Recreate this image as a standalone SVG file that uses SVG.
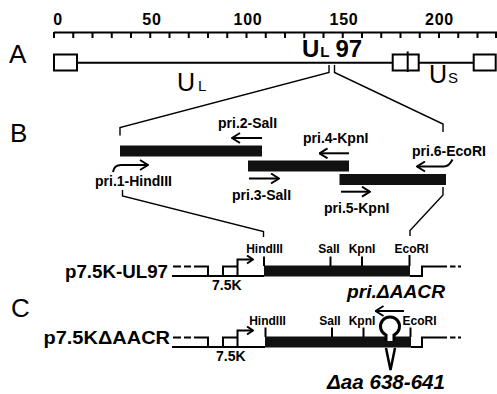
<svg xmlns="http://www.w3.org/2000/svg" width="497" height="394" viewBox="0 0 497 394">
<style>
.t{font-family:"Liberation Sans",Arial,Helvetica,sans-serif;fill:#000}
.b{font-weight:bold}
.bi{font-weight:bold;font-style:italic}
.ln{stroke:#000;stroke-width:2;fill:none}
.cn{stroke:#000;stroke-width:1.4;fill:none}
.ar{stroke:#000;stroke-width:2;fill:none;marker-end:url(#ah)}
.bar{fill:#111}
.site{font-size:12px;text-anchor:middle}
.pri{font-size:14px}
</style>
<defs>
<marker id="ah" viewBox="0 0 10 12" refX="9" refY="6" markerWidth="10" markerHeight="12" markerUnits="userSpaceOnUse" orient="auto"><path d="M1,1 L9,6 L1,11" fill="none" stroke="#000" stroke-width="2"/></marker>
<marker id="ahs" viewBox="0 0 8 10" refX="7" refY="5" markerWidth="8" markerHeight="10" markerUnits="userSpaceOnUse" orient="auto"><path d="M1,1 L7,5 L1,9" fill="none" stroke="#000" stroke-width="2"/></marker>
</defs>
<rect width="497" height="394" fill="#fff"/>

<g id="ruler">
<path class="ln" stroke-width="2.2" d="M54,32.5 H497"/>
<path class="ln" d="M54,32 V38 M73.25,32 V38 M92.5,32 V38 M111.75,32 V38 M131,32 V38 M150.25,32 V38 M169.5,32 V38 M188.75,32 V38 M208,32 V38 M227.25,32 V38 M246.5,32 V38 M265.75,32 V38 M285,32 V38 M304.25,32 V38 M323.5,32 V38 M342.75,32 V38 M362,32 V38 M381.25,32 V38 M400.5,32 V38 M419.75,32 V38 M439,32 V38 M458.25,32 V38 M477.5,32 V38 M496,32 V38"/>
<g class="t b" font-size="16" text-anchor="middle" letter-spacing="0.8">
<text x="58" y="25">0</text>
<text x="152" y="25">50</text>
<text x="248" y="25">100</text>
<text x="344" y="25">150</text>
<text x="439.5" y="25">200</text>
</g>
</g>

<g id="label-A"><text class="t" x="9" y="63" font-size="26">A</text></g>
<g id="label-B"><text class="t" x="10" y="142" font-size="26">B</text></g>
<g id="label-C"><text class="t" x="11" y="317" font-size="26">C</text></g>

<g id="genome">
<path class="ln" d="M77,62.7 H392.7 M418.7,62.7 H473.7"/>
<rect class="ln" x="54" y="54.5" width="23" height="16"/>
<rect class="ln" x="392.7" y="54.5" width="26" height="16"/>
<path class="ln" d="M407.7,51.5 V72"/>
<rect class="ln" x="473.7" y="54.5" width="22" height="16"/>
<text class="t" x="177" y="91" font-size="25">U<tspan font-size="15" dx="3">L</tspan></text>
<text class="t" x="429" y="83" font-size="25">U<tspan font-size="15" dx="1">S</tspan></text>
<text class="t b" x="302" y="57" font-size="24">U<tspan font-size="15" dx="1">L</tspan><tspan dx="6">97</tspan></text>
</g>

<g id="connectors">
<path class="cn" d="M329,65 V72.5 L120,127.5 V135.5"/>
<path class="cn" d="M334.5,65 V72.5 L443,124 V132"/>
<path class="cn" d="M122.5,190 V196 L263.5,231.5 V237"/>
<path class="cn" d="M443,187 V195 L410,230.5 V236"/>
</g>

<g id="fragments">
<rect class="bar" x="120" y="145.5" width="142" height="11"/>
<rect class="bar" x="248" y="160.5" width="101" height="11"/>
<rect class="bar" x="339.5" y="174" width="106.5" height="11"/>
</g>

<g id="pri1"><text class="t b pri" x="95" y="186">pri.1-HindIII</text><path class="ar" d="M113,172 Q114,165 121,165 H148"/></g>
<g id="pri2"><text class="t b pri" x="218" y="128">pri.2-SalI</text><path class="ar" d="M262,138 H232"/></g>
<g id="pri3"><text class="t b pri" x="232" y="200">pri.3-SalI</text><path class="ar" d="M249,178.5 H279"/></g>
<g id="pri4"><text class="t b pri" x="303" y="143">pri.4-KpnI</text><path class="ar" d="M349,153.3 H319.5"/></g>
<g id="pri5"><text class="t b pri" x="324" y="212.5">pri.5-KpnI</text><path class="ar" d="M341,191.7 H370"/></g>
<g id="pri6"><text class="t b pri" x="412" y="155.5">pri.6-EcoRI</text><path class="ar" d="M452.5,159.5 Q449,166.5 444,166.5 H417"/></g>

<g id="p75K-UL97">
<text class="t b" x="65" y="278" font-size="18" textLength="103" lengthAdjust="spacingAndGlyphs">p7.5K-UL97</text>
<path class="ln" d="M172,276 H264 M173,266.5 H181 M184,266.5 H191 M194,266.5 H208 V276 M223,276 V266.5 H237.5"/>
<path class="ln" d="M237.5,276 V259.5 H253" marker-end="url(#ahs)"/>
<rect class="bar" x="264" y="265.5" width="146" height="11"/>
<path class="ln" d="M410,276 H422 V266.5 H447 M450,266.5 H455.5 M458,266.5 H461"/>
<path class="ln" stroke-width="1.4" d="M264,256.5 V266 M330.5,256.5 V266 M362,256.5 V266 M409.5,255 V266"/>
<g class="t b site"><text x="264.5" y="253">HindIII</text><text x="329" y="253">SalI</text><text x="362" y="253">KpnI</text><text x="411.5" y="253">EcoRI</text></g>
<text class="t b" x="212" y="290" font-size="14">7.5K</text>
</g>

<g id="priAACR"><text class="t bi" x="347" y="298" font-size="18" textLength="98" lengthAdjust="spacingAndGlyphs">pri.ΔAACR</text><path class="ar" d="M404,311 H375.5"/></g>

<g id="p75K-dAACR">
<text class="t b" x="43.5" y="344" font-size="18" textLength="126.5" lengthAdjust="spacingAndGlyphs">p7.5KΔAACR</text>
<path class="ln" d="M172,347 H265 M173,337.5 H181 M184,337.5 H191 M194,337.5 H208 V347 M223,347 V337.5 H237.5"/>
<path class="ln" d="M237.5,347 V330.5 H253" marker-end="url(#ahs)"/>
<rect class="bar" x="265" y="336.5" width="146" height="11"/>
<path class="ln" d="M411,347 H422 V337.5 H447 M450,337.5 H455.5 M458,337.5 H461"/>
<path class="ln" stroke-width="1.4" d="M265.5,327.5 V337 M332,327.5 V337 M363.5,327.5 V337 M410.5,327.5 V337"/>
<g class="t b site"><text x="267.5" y="325">HindIII</text><text x="330" y="325">SalI</text><text x="362" y="325">KpnI</text><text x="419.5" y="325">EcoRI</text></g>
<text class="t b" x="216" y="361" font-size="14">7.5K</text>
</g>

<g id="deletion">
<path d="M386,341 V335 A9.5,9.5 0 1 1 394,335 V341" fill="#fff" stroke="#000" stroke-width="3"/>
<path d="M386,348 L390.5,370 L395,348" fill="none" stroke="#000" stroke-width="2.5"/>
<text class="t bi" x="327" y="389" font-size="20" textLength="118" lengthAdjust="spacingAndGlyphs">Δaa 638-641</text>
</g>
</svg>
